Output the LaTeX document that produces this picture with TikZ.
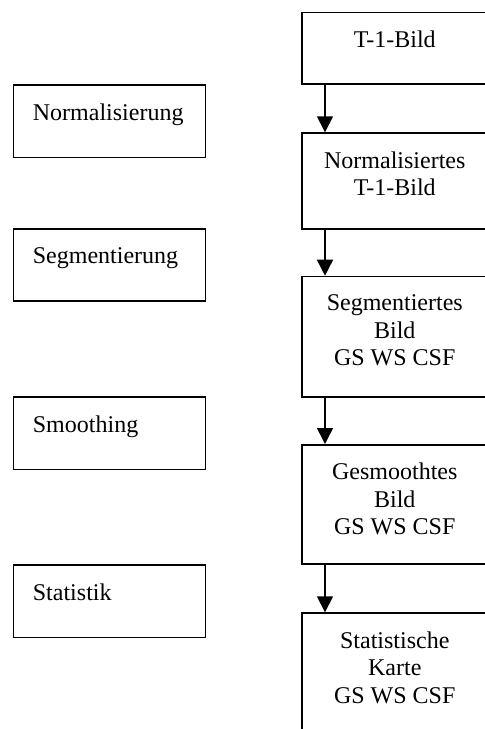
\documentclass[tikz,border=0pt]{standalone}
\usepackage{fontspec}
\setmainfont{Liberation Serif}
\usetikzlibrary{arrows.meta}

\begin{document}
\begin{tikzpicture}[x=1pt,y=-1pt,
    stepbox/.style={draw, line width=1.5pt, inner sep=0pt, anchor=north west},
    steptext/.style={inner sep=0pt, align=center, font=\fontsize{24}{27.5}\selectfont},
    flow/.style={line width=1.5pt, -{Triangle[width=16pt,length=16pt]}}]
            \useasboundingbox (0,0) rectangle (485,729);

            % steps on the left
            \node[stepbox, minimum width=192pt, minimum height=72.7pt] (norm) at (12.7,84) {};
            \node[stepbox, minimum width=192pt, minimum height=72pt] (seg) at (12.7,228) {};
            \node[stepbox, minimum width=192pt, minimum height=72.7pt] (smooth) at (12.7,396) {};
            \node[stepbox, minimum width=192pt, minimum height=72.7pt] (stat) at (12.7,564) {};

            \node[steptext, anchor=north west] (normtxt) at ([xshift=20pt,yshift=-19.5pt]norm.north west) {Normalisierung};
            \node[steptext, anchor=north west] (segtxt) at ([xshift=20pt,yshift=-19.5pt]seg.north west) {Segmentierung};
            \node[steptext, anchor=north west] (smoothtxt) at ([xshift=20pt,yshift=-19.5pt]smooth.north west) {Smoothing};
            \node[steptext, anchor=north west] (stattxt) at ([xshift=20pt,yshift=-19.5pt]stat.north west) {Statistik};

            % images on the right
            \node[stepbox, minimum width=186pt, minimum height=71.5pt] (bild) at (301,11.7) {};
            \node[stepbox, minimum width=186pt, minimum height=96pt] (normbild) at (301,132.3) {};
            \node[stepbox, minimum width=186pt, minimum height=120.3pt] (segbild) at (301,275.7) {};
            \node[stepbox, minimum width=186pt, minimum height=119.3pt] (smoothbild) at (301,444) {};
            \node[stepbox, minimum width=186pt, minimum height=140pt] (karte) at (301,612.3) {};

            \node[steptext, anchor=north] (bildtxt) at ([yshift=-19pt]bild.north) {T-1-Bild};
            \node[steptext, anchor=north] (normbildtxt) at ([yshift=-19pt]normbild.north) {Normalisiertes\\T-1-Bild};
            \node[steptext, anchor=north] (segbildtxt) at ([yshift=-19pt]segbild.north) {Segmentiertes\\Bild\\GS WS CSF};
            \node[steptext, anchor=north] (smoothbildtxt) at ([yshift=-19pt]smoothbild.north) {Gesmoothtes\\Bild\\GS WS CSF};
            \node[steptext, anchor=north] (kartetxt) at ([yshift=-19pt]karte.north) {Statistische\\Karte\\GS WS CSF};

            \draw[flow] ([xshift=24pt]bild.south west) -- ([xshift=24pt]normbild.north west);
            \draw[flow] ([xshift=24pt]normbild.south west) -- ([xshift=24pt]segbild.north west);
            \draw[flow] ([xshift=24pt]segbild.south west) -- ([xshift=24pt]smoothbild.north west);
            \draw[flow] ([xshift=24pt]smoothbild.south west) -- ([xshift=24pt]karte.north west);
\end{tikzpicture}
\end{document}
